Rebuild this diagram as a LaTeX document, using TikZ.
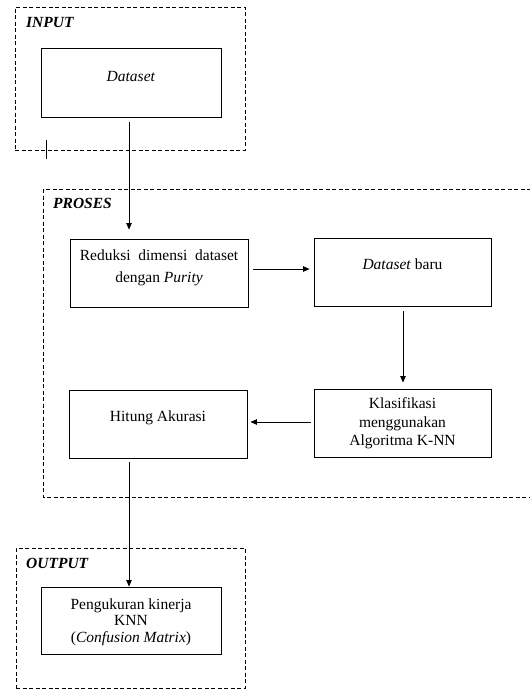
\documentclass[tikz,border=0pt]{standalone}
\usepackage{fontspec}
\setmainfont{Liberation Serif}
\usetikzlibrary{arrows.meta}
\begin{document}
\begin{tikzpicture}[x=1pt,y=-1pt,
  grp/.style={draw, line width=0.8pt, dash pattern=on 4pt off 2.5pt, inner sep=0pt},
  grpline/.style={line width=0.8pt, dash pattern=on 4pt off 2.5pt},
  box/.style={draw, line width=0.9pt, inner sep=0pt},
  txt/.style={font=\fontsize{15.5}{17}\selectfont, anchor=base, inner sep=0pt},
  lbl/.style={font=\fontsize{15.5}{17}\selectfont\bfseries\itshape, anchor=base west, inner sep=0pt},
  arr/.style={line width=0.8pt, -{Triangle[length=6.5pt,width=5.5pt]}}
]
\useasboundingbox (0,0) rectangle (530,689);

% group frames
\node[grp, minimum width=230pt, minimum height=143pt] (inp) at (130,78.5) {};
\draw[grpline] (531,189) -| (43.5,497) -- (531,497);
\node[grp, minimum width=229pt, minimum height=140pt] (out) at (130.5,618) {};
\coordinate (tickA) at (46,140);
\coordinate (tickB) at (46,159);
\draw[line width=0.8pt] (tickA) -- (tickB);

\node[lbl] (inplbl) at (26,27) {INPUT};
\node[lbl] (prolbl) at (53,208) {PROSES};
\node[lbl] (outlbl) at (26,568) {OUTPUT};

% boxes
\node[box, minimum width=180pt, minimum height=69pt] (ds) at (131,82.5) {};
\node[txt] (dst) at (131,81) {\textit{Dataset}};

\node[box, minimum width=178pt, minimum height=68pt] (red) at (159,273) {};
\node[txt] (reda) at (159,260.5) {Reduksi\ \ dimensi\ \ dataset};
\node[txt] (redb) at (159,282) {dengan \textit{Purity}};

\node[box, minimum width=177pt, minimum height=68pt] (dsb) at (402.5,272) {};
\node[txt] (dsbt) at (402.5,269) {\textit{Dataset} baru};

\node[box, minimum width=177pt, minimum height=68pt] (kla) at (402.5,423) {};
\node[txt] (klaa) at (402.5,408) {Klasifikasi};
\node[txt] (klab) at (402.5,427) {menggunakan};
\node[txt] (klac) at (402.5,445) {Algoritma K-NN};

\node[box, minimum width=178pt, minimum height=68pt] (hit) at (158,424) {};
\node[txt] (hitt) at (158,421) {Hitung Akurasi};

\node[box, minimum width=180pt, minimum height=67pt] (pen) at (131,620.5) {};
\node[txt] (pena) at (131,609) {Pengukuran kinerja};
\node[txt] (penb) at (131,625.5) {KNN};
\node[txt] (penc) at (131,642) {(\textit{Confusion Matrix})};

% connectors
\draw[arr] ([shift={(-2,5)}]ds.south) -- ([shift={(-30,-9)}]red.north);
\draw[arr] ([shift={(5,-4)}]red.east) -- ([shift={(-4,-3)}]dsb.west);
\draw[arr] ([shift={(0.5,5)}]dsb.south) -- ([shift={(0.5,-6)}]kla.north);
\draw[arr] ([shift={(-3,-1)}]kla.west) -- ([shift={(3,-2)}]hit.east);
\draw[arr] ([shift={(-29,4)}]hit.south) -- ([shift={(-2,0)}]pen.north);
\end{tikzpicture}
\end{document}
